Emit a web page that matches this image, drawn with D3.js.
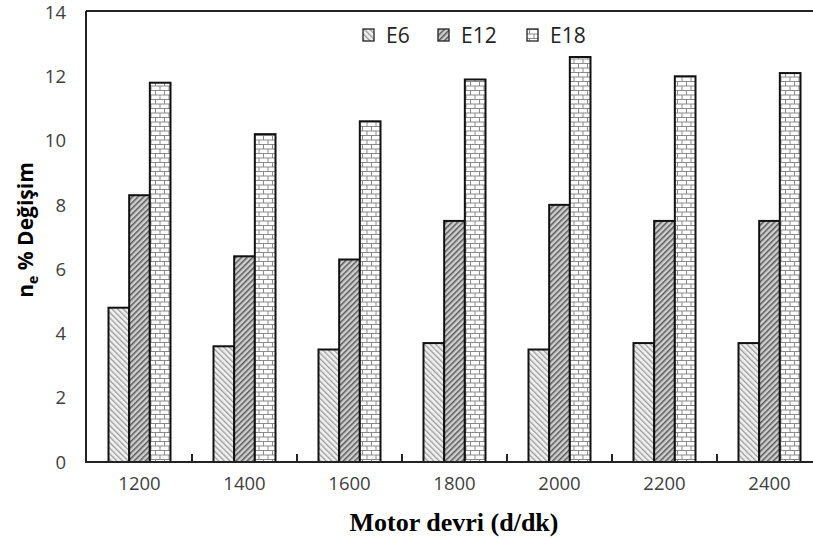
<!DOCTYPE html>
<html><head><meta charset="utf-8">
<script src="https://cdn.jsdelivr.net/npm/d3@7"></script>
<style>body{margin:0;background:#fff}svg{display:block}</style>
</head><body>
<svg id="c" width="813" height="539"></svg>
<script>
const categories = ["1200","1400","1600","1800","2000","2200","2400"];
const seriesNames = ["E6","E12","E18"];
const E6  = [4.8, 3.6, 3.5, 3.7, 3.5, 3.7, 3.7];
const E12 = [8.3, 6.4, 6.3, 7.5, 8.0, 7.5, 7.5];
const E18 = [11.8, 10.2, 10.6, 11.9, 12.6, 12.0, 12.1];
const yTicks = [0,2,4,6,8,10,12,14];

const svg = d3.select("#c");
const m = {left:87, top:12, right:822, bottom:462};
const x = d3.scaleBand().domain(categories).range([m.left, m.right]).paddingInner(0).paddingOuter(0);
const inner = d3.scaleBand().domain(seriesNames).range([0, 62]);
const y = d3.scaleLinear().domain([0,14]).range([m.bottom, m.top]);

const defs = svg.append("defs");
const p1 = defs.append("pattern").attr("id","p6").attr("patternUnits","userSpaceOnUse")
  .attr("width",4).attr("height",4).attr("patternTransform","rotate(-45)");
p1.append("rect").attr("width",4).attr("height",4).attr("fill","#f0f0f0");
p1.append("rect").attr("width",1.3).attr("height",4).attr("fill","#9a9a9a");
const p2 = defs.append("pattern").attr("id","p12").attr("patternUnits","userSpaceOnUse")
  .attr("width",4).attr("height",4).attr("patternTransform","rotate(45)");
p2.append("rect").attr("width",4).attr("height",4).attr("fill","#cfcfcf");
p2.append("rect").attr("width",1.5).attr("height",4).attr("fill","#5a5a5a");
const p3 = defs.append("pattern").attr("id","p18").attr("patternUnits","userSpaceOnUse")
  .attr("width",9).attr("height",9);
p3.append("rect").attr("width",9).attr("height",9).attr("fill","#fff");
p3.append("line").attr("x1",0).attr("x2",9).attr("y1",0.5).attr("y2",0.5).attr("stroke","#8a8a8a").attr("stroke-width",1);
p3.append("line").attr("x1",0).attr("x2",9).attr("y1",5).attr("y2",5).attr("stroke","#8a8a8a").attr("stroke-width",1);
p3.append("line").attr("x1",2.5).attr("x2",2.5).attr("y1",0.5).attr("y2",5).attr("stroke","#8a8a8a").attr("stroke-width",1);
p3.append("line").attr("x1",7).attr("x2",7).attr("y1",5).attr("y2",9.5).attr("stroke","#8a8a8a").attr("stroke-width",1);
const fills = {E6:"url(#p6)", E12:"url(#p12)", E18:"url(#p18)"};

const data = [];
categories.forEach((c,i)=>{
  data.push({c, s:"E6", v:E6[i]});
  data.push({c, s:"E12", v:E12[i]});
  data.push({c, s:"E18", v:E18[i]});
});

const off = (x.bandwidth()-62)/2;
svg.append("g").selectAll("rect").data(data).join("rect")
  .attr("x", d=>x(d.c)+off+inner(d.s))
  .attr("y", d=>y(d.v))
  .attr("width", inner.bandwidth())
  .attr("height", d=>y(0)-y(d.v))
  .attr("fill", d=>fills[d.s])
  .attr("stroke","#111").attr("stroke-width",2);

const ax = svg.append("g").attr("stroke","#222").attr("stroke-width",2).attr("fill","none");
ax.append("line").attr("x1",m.left-1).attr("x2",m.left-1).attr("y1",m.top-1).attr("y2",m.bottom+1);
ax.append("line").attr("x1",m.left-1).attr("x2",813).attr("y1",m.top-1).attr("y2",m.top-1);
ax.append("line").attr("x1",m.left-2).attr("x2",813).attr("y1",m.bottom).attr("y2",m.bottom);
categories.slice(1).forEach(c=>{
  ax.append("line").attr("x1",x(c)).attr("x2",x(c)).attr("y1",m.bottom).attr("y2",m.bottom-8);
});

const font = "'Open Sans', Lato, sans-serif";
svg.append("g").selectAll("text").data(yTicks).join("text")
  .attr("x",66).attr("y",d=>y(d)).attr("dy","0.36em")
  .attr("text-anchor","end").attr("font-family",font).attr("font-size",18.5).attr("fill","#404040")
  .text(d=>d);
svg.append("g").selectAll("text").data(categories).join("text")
  .attr("x",d=>x(d)+x.bandwidth()/2).attr("y",490)
  .attr("text-anchor","middle").attr("font-family",font).attr("font-size",18.5).attr("fill","#404040")
  .text(d=>d);

const yt = svg.append("text").attr("transform","translate(33,230) rotate(-90)")
  .attr("text-anchor","middle").attr("font-family",font).attr("font-weight","bold")
  .attr("font-size",21).attr("fill","#000");
yt.append("tspan").text("n");
yt.append("tspan").attr("font-size",14).attr("dy",5).text("e");
yt.append("tspan").attr("dy",-5).text(" % Değişim");

svg.append("text").attr("x",454).attr("y",531).attr("text-anchor","middle")
  .attr("font-family","'Liberation Serif', 'Times New Roman', serif").attr("font-weight","bold")
  .attr("font-size",26).attr("fill","#000").text("Motor devri (d/dk)");

const legX = [363, 438, 527];
const lg = svg.append("g").selectAll("g").data(seriesNames).join("g")
  .attr("transform",(d,i)=>`translate(${legX[i]},29)`);
lg.append("rect").attr("width",11).attr("height",12).attr("fill",d=>fills[d])
  .attr("stroke","#222").attr("stroke-width",1.3);
lg.append("text").attr("x",23).attr("y",6).attr("dy","0.36em")
  .attr("font-family",font).attr("font-size",21).attr("fill","#222").text(d=>d);
</script>
</body></html>
